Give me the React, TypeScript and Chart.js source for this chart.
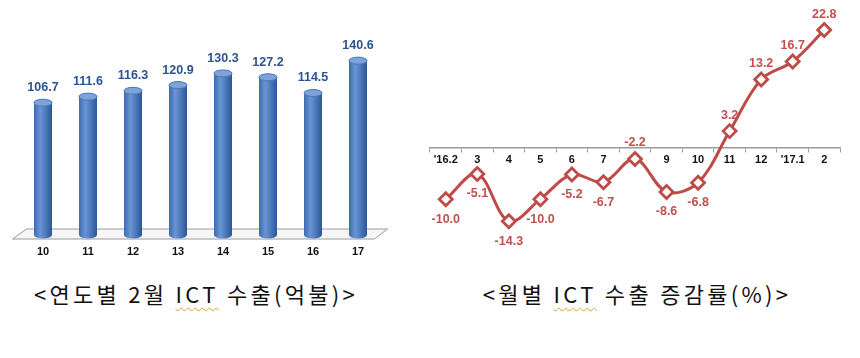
import React, { useEffect, useRef } from 'react';
import { Chart, registerables } from 'chart.js';

Chart.register(...registerables);

// ---- data ----
const yearLabels = ['10', '11', '12', '13', '14', '15', '16', '17'];
const exportValues = [106.7, 111.6, 116.3, 120.9, 130.3, 127.2, 114.5, 140.6];

const monthLabels = ["'16.2", '3', '4', '5', '6', '7', '8', '9', '10', '11', '12', "'17.1", '2'];
const growthValues = [-10.0, -5.1, -14.3, -10.0, -5.2, -6.7, -2.2, -8.6, -6.8, 3.2, 13.2, 16.7, 22.8];
const growthLabelSide = ['below', 'below', 'below', 'below', 'below', 'below', 'above', 'below', 'below', 'above', 'above', 'above', 'above'];

const leftCaption = ['<연도별 2월 ', 'ICT', ' 수출(억불)>'];
const rightCaption = ['<월별 ', 'ICT', ' 수출 증감률(%)>'];

const FONT = '"Liberation Sans", Arial, sans-serif';

const cylinderPlugin = {
  id: 'cylinders',
  beforeDatasetsDraw(chart: any) {
    const { ctx, chartArea: a } = chart;
    ctx.save();
    ctx.beginPath();
    ctx.moveTo(a.left - 8, a.bottom + 4);
    ctx.lineTo(a.right - 6, a.bottom + 4);
    ctx.lineTo(a.right + 7, a.bottom - 6);
    ctx.lineTo(a.left + 6, a.bottom - 6);
    ctx.closePath();
    ctx.fillStyle = '#f6f6f6';
    ctx.fill();
    ctx.strokeStyle = '#9a9a9a';
    ctx.lineWidth = 1;
    ctx.stroke();
    ctx.restore();
  },
  afterDatasetsDraw(chart: any) {
    const { ctx } = chart;
    const meta = chart.getDatasetMeta(0);
    const data = chart.data.datasets[0].data as number[];
    ctx.save();
    meta.data.forEach((el: any, i: number) => {
      const { x, y, base, width } = el.getProps(['x', 'y', 'base', 'width'], true);
      const r = width / 2;
      const ry = 3.5;
      const g = ctx.createLinearGradient(x - r, 0, x + r, 0);
      g.addColorStop(0, '#3C6BAF');
      g.addColorStop(0.35, '#6896D4');
      g.addColorStop(0.7, '#4874B6');
      g.addColorStop(1, '#2C5592');
      ctx.fillStyle = g;
      ctx.beginPath();
      ctx.moveTo(x - r, y);
      ctx.lineTo(x - r, base);
      ctx.ellipse(x, base, r, ry, 0, Math.PI, 0, true);
      ctx.lineTo(x + r, y);
      ctx.ellipse(x, y, r, ry, 0, 0, Math.PI, true);
      ctx.closePath();
      ctx.fill();
      // top cap
      ctx.beginPath();
      ctx.ellipse(x, y, r, ry, 0, 0, Math.PI * 2);
      ctx.fillStyle = '#7DA3D9';
      ctx.fill();
      ctx.strokeStyle = '#4C78B8';
      ctx.lineWidth = 1;
      ctx.stroke();
      // value label
      ctx.fillStyle = '#2A548F';
      ctx.font = `bold 12.5px ${FONT}`;
      ctx.textAlign = 'center';
      ctx.textBaseline = 'middle';
      ctx.fillText(data[i].toFixed(1), x, y - 15);
    });
    ctx.restore();
  },
};

const lineLabelPlugin = {
  id: 'lineLabels',
  afterDatasetsDraw(chart: any) {
    const { ctx } = chart;
    const meta = chart.getDatasetMeta(0);
    const data = chart.data.datasets[0].data as number[];
    ctx.save();
    ctx.fillStyle = '#C0504D';
    ctx.font = `bold 12.5px ${FONT}`;
    ctx.textAlign = 'center';
    ctx.textBaseline = 'middle';
    meta.data.forEach((el: any, i: number) => {
      const { x, y } = el.getProps(['x', 'y'], true);
      const dy = growthLabelSide[i] === 'below' ? 20 : -16;
      ctx.fillText(data[i].toFixed(1), x, y + dy);
    });
    ctx.restore();
  },
};

function BarChart() {
  const ref = useRef<HTMLCanvasElement>(null);
  useEffect(() => {
    if (!ref.current) return;
    const chart = new Chart(ref.current, {
      type: 'bar',
      data: {
        labels: yearLabels,
        datasets: [
          {
            data: exportValues,
            backgroundColor: 'rgba(0,0,0,0)',
            borderWidth: 0,
            barThickness: 18,
          },
        ],
      },
      options: {
        animation: false,
        responsive: false,
        maintainAspectRatio: false,
        layout: { padding: { left: 20.5, right: 19.5, top: 36.6, bottom: 0 } },
        plugins: { legend: { display: false }, tooltip: { enabled: false } },
        scales: {
          x: {
            grid: { display: false, drawTicks: false },
            border: { display: false },
            ticks: { color: '#111', font: { family: FONT, size: 11, weight: 'bold' }, padding: 10 },
            afterFit: (s: any) => {
              s.height = 35;
            },
          },
          y: { display: false, min: 0, max: 160 },
        },
      },
      plugins: [cylinderPlugin],
    } as any);
    return () => chart.destroy();
  }, []);
  return <canvas ref={ref} width={400} height={270} style={{ position: 'absolute', left: 0, top: 0, width: 400, height: 270 }} />;
}

function LineChart() {
  const ref = useRef<HTMLCanvasElement>(null);
  useEffect(() => {
    if (!ref.current) return;
    const chart = new Chart(ref.current, {
      type: 'line',
      data: {
        labels: monthLabels,
        datasets: [
          {
            data: growthValues,
            borderColor: '#BE4B48',
            borderWidth: 3,
            tension: 0.35,
            pointStyle: 'rectRot',
            pointRadius: 6.5,
            pointBorderWidth: 2.8,
            pointBackgroundColor: '#ffffff',
            pointBorderColor: '#BE4B48',
            clip: false,
          },
        ],
      },
      options: {
        animation: false,
        responsive: false,
        maintainAspectRatio: false,
        layout: { padding: { left: 10, right: 20, top: 18.75, bottom: 6 } },
        plugins: { legend: { display: false }, tooltip: { enabled: false } },
        scales: {
          x: {
            position: { y: 0 },
            offset: true,
            grid: { display: true, drawOnChartArea: false, drawTicks: true, tickLength: 4, offset: true, color: '#9a9a9a' },
            border: { display: true, color: '#9a9a9a', width: 1.5 },
            ticks: { color: '#111', font: { family: FONT, size: 11, weight: 'bold' }, padding: 2, maxRotation: 0, autoSkip: false },
          },
          y: { display: false, min: -20, max: 25 },
        },
      },
      plugins: [lineLabelPlugin],
    } as any);
    return () => chart.destroy();
  }, []);
  return <canvas ref={ref} width={440} height={260} style={{ position: 'absolute', left: 420, top: 0, width: 440, height: 260 }} />;
}

function Caption({ parts, center }: { parts: string[]; center: number }) {
  return (
    <div
      style={{
        position: 'absolute',
        left: center - 250,
        width: 500,
        top: 278,
        textAlign: 'center',
        fontFamily: '"Noto Sans CJK KR", sans-serif',
        fontSize: 22,
        lineHeight: '30px',
        color: '#111',
        whiteSpace: 'pre',
        letterSpacing: 3.3,
      }}
    >
      {parts[0]}
      <span style={{ textDecoration: 'underline wavy #E0A040', textDecorationThickness: 1, textUnderlineOffset: 4 }}>{parts[1]}</span>
      {parts[2]}
    </div>
  );
}

export default function App() {
  return (
    <div style={{ position: 'fixed', left: 0, top: 0, width: 860, height: 358, background: '#fff', overflow: 'hidden' }}>
      <BarChart />
      <LineChart />
      <Caption parts={leftCaption} center={196} />
      <Caption parts={rightCaption} center={637} />
    </div>
  );
}
